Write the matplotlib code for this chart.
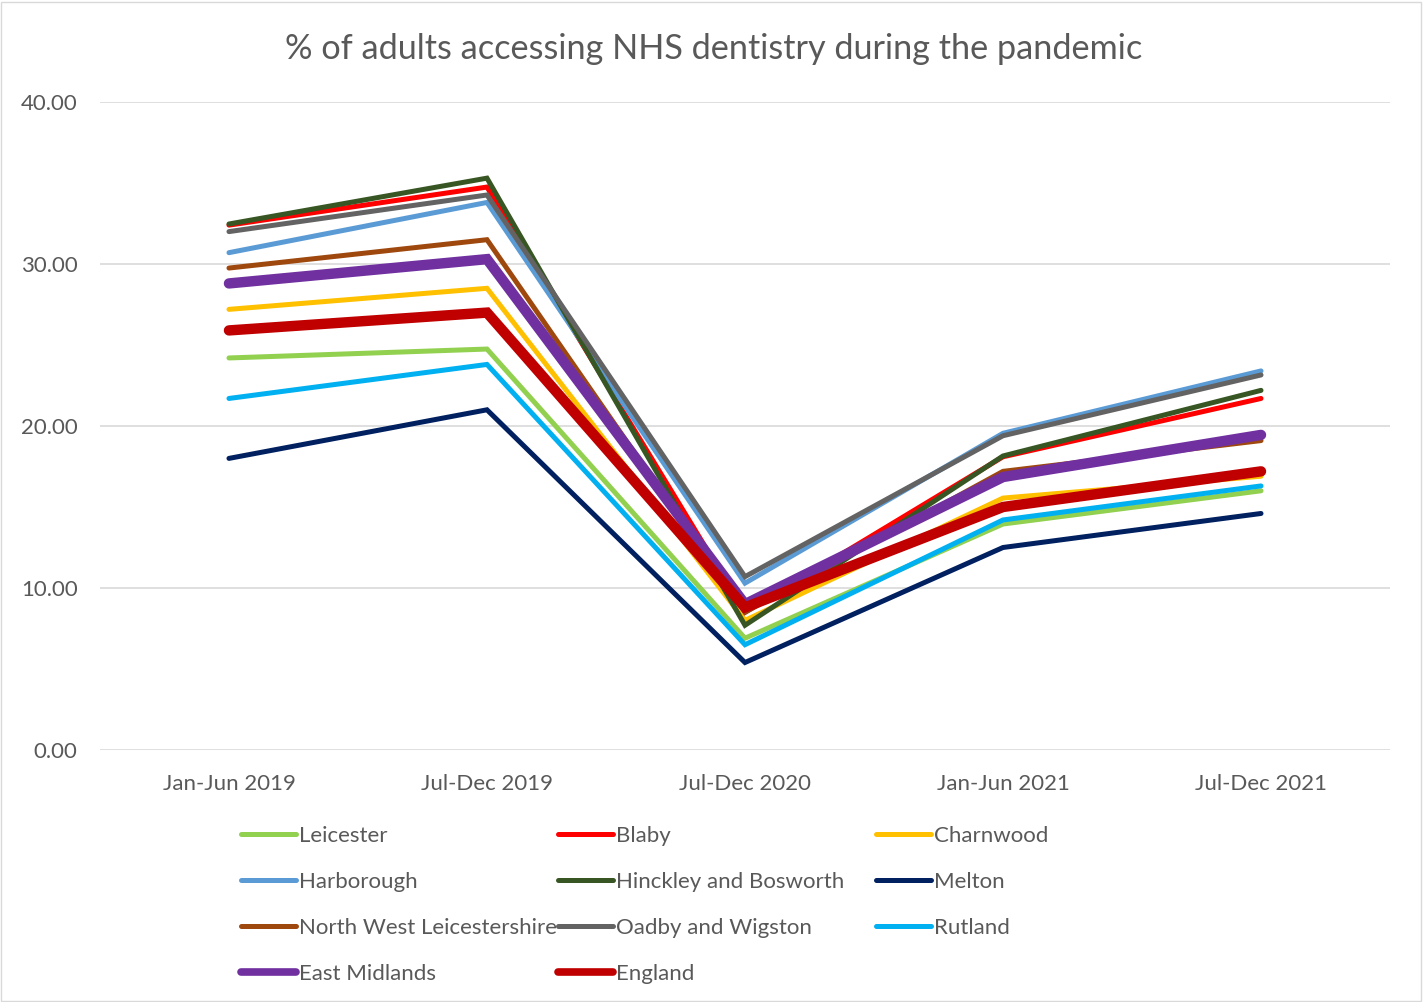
import matplotlib
matplotlib.use("Agg")
import matplotlib.pyplot as plt
from matplotlib.lines import Line2D
from matplotlib.patches import Rectangle

plt.rcParams['font.family'] = ['Lato', 'DejaVu Sans']

periods = ["Jan-Jun 2019", "Jul-Dec 2019", "Jul-Dec 2020", "Jan-Jun 2021", "Jul-Dec 2021"]

leicester = [24.2, 24.75, 6.9, 13.95, 16.0]
blaby = [32.4, 34.75, 8.5, 18.1, 21.7]
charnwood = [27.2, 28.5, 8.0, 15.55, 16.9]
harborough = [30.7, 33.8, 10.3, 19.55, 23.4]
hinckley = [32.47, 35.3, 7.7, 18.15, 22.2]
melton = [18.0, 21.0, 5.4, 12.5, 14.6]
nw_leics = [29.75, 31.5, 8.5, 17.2, 19.1]
oadby = [32.0, 34.26, 10.7, 19.4, 23.15]
rutland = [21.7, 23.8, 6.5, 14.2, 16.3]
east_midlands = [28.8, 30.3, 9.0, 16.85, 19.45]
england = [25.9, 27.0, 8.8, 15.0, 17.2]

series = [
    ("Leicester", leicester, "#92D050", 3.6),
    ("Blaby", blaby, "#FF0000", 3.6),
    ("Charnwood", charnwood, "#FFC000", 3.6),
    ("Harborough", harborough, "#5B9BD5", 3.6),
    ("Hinckley and Bosworth", hinckley, "#375623", 3.6),
    ("Melton", melton, "#002060", 3.6),
    ("North West Leicestershire", nw_leics, "#9E480E", 3.6),
    ("Oadby and Wigston", oadby, "#636363", 3.6),
    ("Rutland", rutland, "#00B0F0", 3.6),
    ("East Midlands", east_midlands, "#7030A0", 7.5),
    ("England", england, "#C00000", 7.5),
]

text_col = "#595959"

fig = plt.figure(figsize=(14.28, 10.02), dpi=100)
ax = fig.add_axes([0.070, 0.2515, 0.9034, 0.6467])

x = list(range(len(periods)))
handles = {}
for name, vals, col, lw in series:
    ln, = ax.plot(x, vals, color=col, lw=lw, solid_capstyle='round',
                  solid_joinstyle='miter', label=name)
    handles[name] = ln

ax.set_xlim(-0.5, len(periods) - 0.5)
ax.set_ylim(0, 40)
ax.set_yticks([0, 10, 20, 30, 40])
ax.set_yticklabels([f"{v:.2f}" for v in [0, 10, 20, 30, 40]])
ax.set_xticks(x)
ax.set_xticklabels(periods)
ax.tick_params(axis='both', length=0, labelsize=16, colors=text_col)
ax.tick_params(axis='y', pad=16)
ax.tick_params(axis='x', pad=17)
ax.grid(axis='y', color='#D9D9D9', lw=1.2)
ax.set_axisbelow(True)
for s in ax.spines.values():
    s.set_visible(False)

fig.text(0.5, 0.951, "% of adults accessing NHS dentistry during the pandemic",
         ha='center', va='center', fontsize=24.7, color=text_col)

# legend: three columns placed by hand, like the original
columns = [
    ["Leicester", "Harborough", "North West Leicestershire", "East Midlands"],
    ["Blaby", "Hinckley and Bosworth", "Oadby and Wigston", "England"],
    ["Charnwood", "Melton", "Rutland"],
]
col_x = [241 / 1428, 558 / 1428, 876 / 1428]
for cx, names in zip(col_x, columns):
    hs = [Line2D([], [], color=handles[n].get_color(),
                 lw=min(handles[n].get_linewidth(), 5.5),
                 solid_capstyle='round') for n in names]
    leg = fig.legend(hs, names, loc='upper left', bbox_to_anchor=(cx, 0.176),
                     frameon=False, fontsize=16, handlelength=2.48,
                     handletextpad=0.14, labelspacing=1.17, borderpad=0,
                     borderaxespad=0)
    for t in leg.get_texts():
        t.set_color(text_col)

fig.patches.append(Rectangle((0.001, 0.001), 0.994, 0.997, transform=fig.transFigure,
                             fill=False, edgecolor='#D9D9D9', lw=1))

fig.savefig("out.png", dpi=100)
